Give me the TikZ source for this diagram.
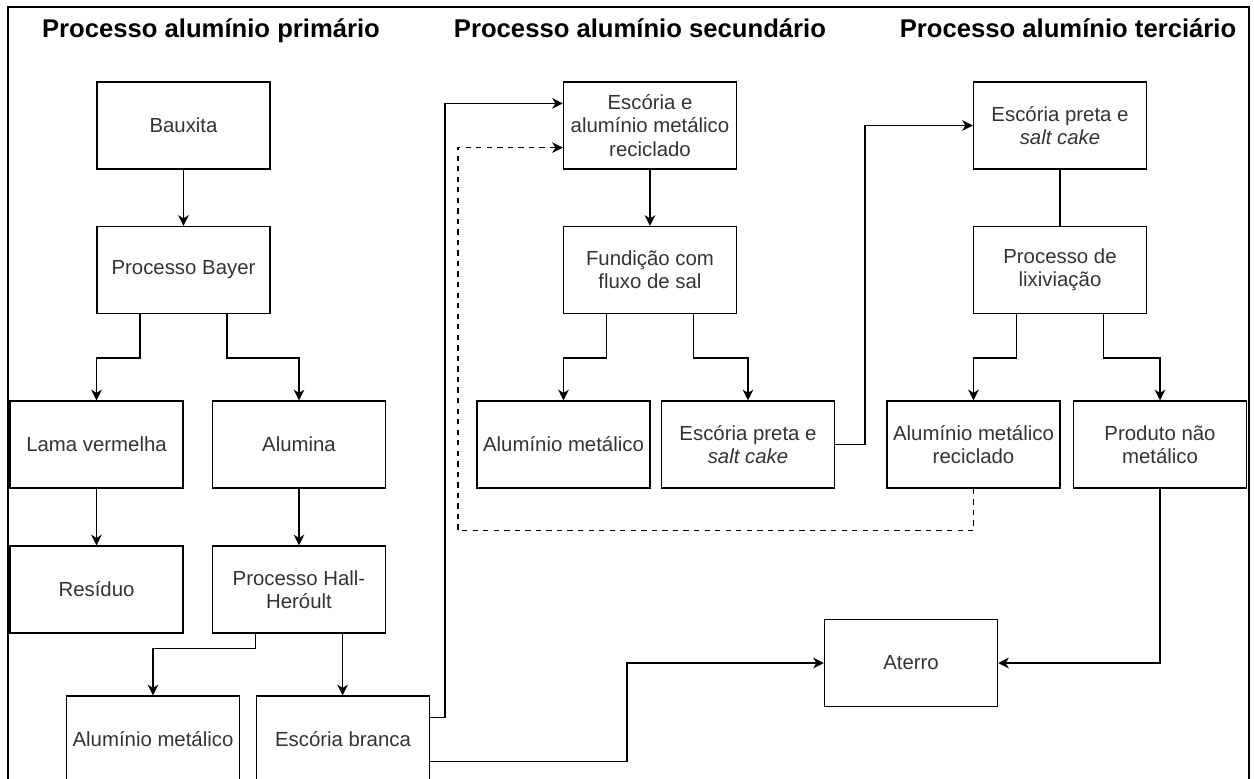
\documentclass[tikz,border=0pt]{standalone}
\usepackage{fontspec}
\setmainfont{Liberation Sans}
\usetikzlibrary{arrows.meta,calc}

\tikzset{
  box/.style={draw, line width=0.85pt, minimum width=3.46cm, minimum height=1.74cm,
    inner sep=2pt, align=center, text=black!80, font=\fontsize{11.6}{13.2}\selectfont},
  titulo/.style={anchor=base, font=\bfseries\fontsize{14.6}{17}\selectfont},
  seta/.style={line width=0.85pt, -{Stealth[length=6pt,width=6pt,inset=1.8pt]}},
  liga/.style={line width=0.85pt},
}

\begin{document}
\begin{tikzpicture}[x=0.02cm, y=-0.02cm]
        \useasboundingbox (0,0) rectangle (1254,778);
        \clip (0,0) rectangle (1254,778);

        % moldura
        \draw[line width=1.2pt] (8,800) -- (8,7) -- (1249,7) -- (1249,800);

        \node[titulo] (tprim) at (211,37) {Processo alumínio primário};
        \node[titulo] (tsec) at (640,37) {Processo alumínio secundário};
        \node[titulo] (tter) at (1068,37) {Processo alumínio terciário};

        % primario
        \node[box] (bauxita) at (183.5,125.5) {Bauxita};
        \node[box] (bayer) at (183.5,270) {Processo Bayer};
        \node[box] (lama) at (96.5,444.5) {Lama vermelha};
        \node[box] (alumina) at (299,444.5) {Alumina};
        \node[box] (residuo) at (96.5,589.5) {Resíduo};
        \node[box] (hall) at (299,589.5) {Processo Hall-\\Heróult};
        \node[box] (almet) at (153,739.5) {Alumínio metálico};
        \node[box] (branca) at (343,739.5) {Escória branca};

        % secundario
        \node[box] (escoria) at (650,125.5) {Escória e\\alumínio metálico\\reciclado};
        \node[box] (fundicao) at (650,270) {Fundição com\\fluxo de sal};
        \node[box] (almetsec) at (563.5,444.5) {Alumínio metálico};
        \node[box] (pretasec) at (748,444.5) {Escória preta e\\\textit{salt cake}};

        % terciario
        \node[box] (pretater) at (1060,125.5) {Escória preta e\\\textit{salt cake}};
        \node[box] (lixiv) at (1060,270) {Processo de\\lixiviação};
        \node[box] (reciclado) at (973.5,444.5) {Alumínio metálico\\reciclado};
        \node[box] (produto) at (1160,444.5) {Produto não\\metálico};

        \node[box] (aterro) at (911,663) {Aterro};

        % ligacoes
        \draw[seta] (bauxita) -- (bayer);
        \draw[seta] ($(bayer.south west)!0.25!(bayer.south east)$) -- ++(0,44) -| (lama.north);
        \draw[seta] ($(bayer.south west)!0.75!(bayer.south east)$) -- ++(0,44) -| (alumina.north);
        \draw[seta] (lama) -- (residuo);
        \draw[seta] (alumina) -- (hall);
        \draw[seta] ($(hall.south west)!0.25!(hall.south east)$) -- ++(0,15) -| (almet.north);
        \draw[seta] ($(hall.south west)!0.75!(hall.south east)$) -- (branca.north -| {$(hall.south west)!0.75!(hall.south east)$});

        \draw[seta] ($(branca.north east)!0.25!(branca.south east)$) -- ++(15,0)
          |- ($(escoria.north west)!0.25!(escoria.south west)$);
        \draw[seta] ($(branca.north east)!0.75!(branca.south east)$) -- ++(197,0) |- (aterro.west);

        \draw[seta] (escoria) -- (fundicao);
        \draw[seta] ($(fundicao.south west)!0.25!(fundicao.south east)$) -- ++(0,44) -| (almetsec.north);
        \draw[seta] ($(fundicao.south west)!0.75!(fundicao.south east)$) -- ++(0,44) -| (pretasec.north);
        \draw[seta] (pretasec.east) -- ++(30,0) |- (pretater.west);

        \draw[liga] (pretater) -- (lixiv);
        \draw[seta] ($(lixiv.south west)!0.25!(lixiv.south east)$) -- ++(0,44) -| (reciclado.north);
        \draw[seta] ($(lixiv.south west)!0.75!(lixiv.south east)$) -- ++(0,44) -| (produto.north);
        \draw[seta] (produto.south) |- (aterro.east);

        % retorno do aluminio reciclado
        \draw[seta, dashed] (reciclado.south) -- ++(0,42)
          -| ($(escoria.north west)!0.75!(escoria.south west)+(-105,0)$)
          -- ($(escoria.north west)!0.75!(escoria.south west)$);
\end{tikzpicture}
\end{document}
